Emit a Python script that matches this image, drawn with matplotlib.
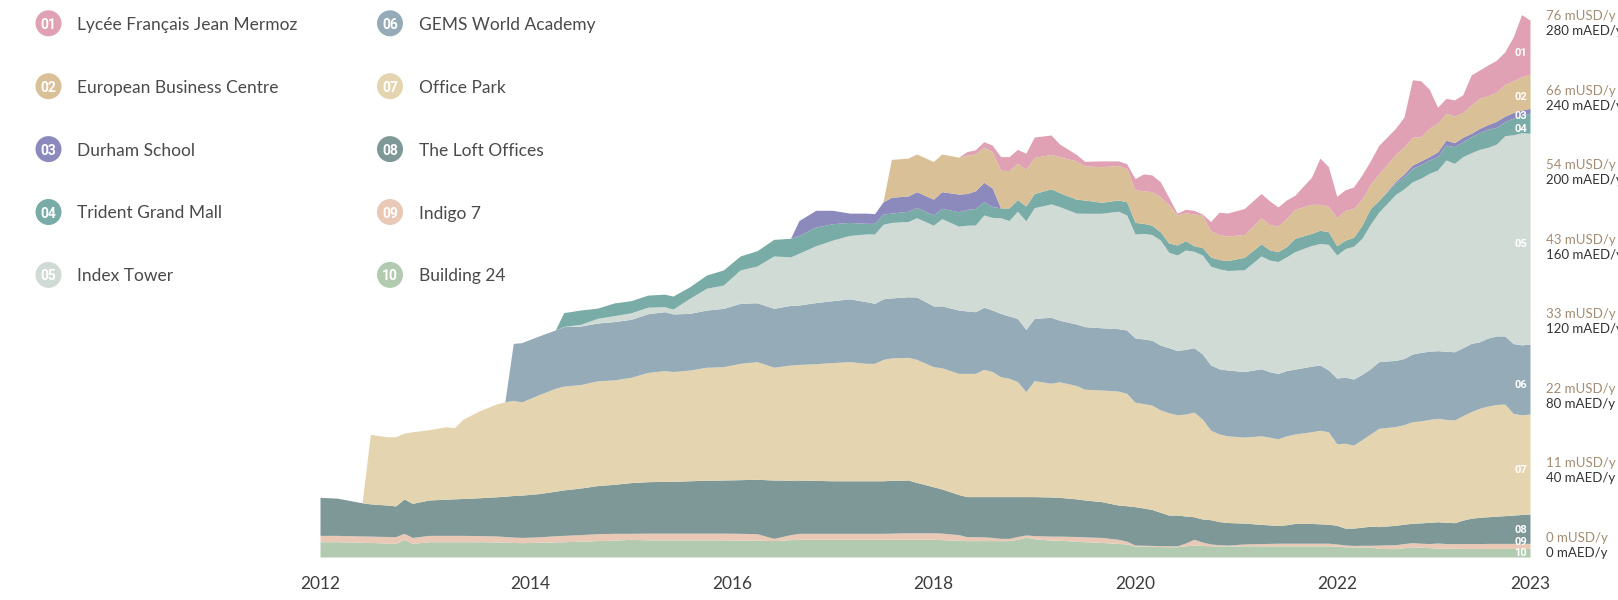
import matplotlib.pyplot as plt
import numpy as np
from matplotlib.patches import Circle

plt.rcParams['font.family'] = ['Lato', 'DejaVu Sans']

months = [
    '2011-12', '2012-02', '2012-05', '2012-06', '2012-08', '2012-09', '2012-10', '2012-11', '2013-01', '2013-03',
    '2013-04', '2013-05', '2013-07', '2013-09', '2013-10', '2013-11', '2013-12', '2014-02', '2014-04', '2014-05',
    '2014-07', '2014-09', '2014-11', '2015-01', '2015-03', '2015-05', '2015-06', '2015-08', '2015-10', '2015-12',
    '2016-02', '2016-04', '2016-06', '2016-08', '2016-09', '2016-11', '2017-01', '2017-03', '2017-05', '2017-06',
    '2017-07', '2017-08', '2017-10', '2017-11', '2018-01', '2018-02', '2018-04', '2018-05', '2018-06', '2018-07',
    '2018-08', '2018-09', '2018-10', '2018-11', '2018-12', '2019-01', '2019-03', '2019-04', '2019-06', '2019-07',
    '2019-09', '2019-11', '2019-12', '2020-01', '2020-02', '2020-03', '2020-04', '2020-05', '2020-06', '2020-07',
    '2020-08', '2020-09', '2020-10', '2020-11', '2020-12', '2021-02', '2021-04', '2021-05', '2021-06', '2021-07',
    '2021-08', '2021-10', '2021-11', '2021-12', '2022-01', '2022-02', '2022-03', '2022-04', '2022-05', '2022-06',
    '2022-08', '2022-09', '2022-10', '2022-11', '2022-12', '2023-01', '2023-02', '2023-03', '2023-04', '2023-05',
    '2023-06', '2023-07', '2023-08', '2023-09', '2023-10', '2023-11', '2023-12',
]

# upper edge of each band of the stack, mAED/y (None = building not in the stack at that date)
top10 = [
    8.2, 8.2, 7.9, 7.8, 7.5, 7.3, 9.5, 7.3, 8.2, 8.2,
    8.2, 8.2, 8.2, 8.1, 8.0, 7.8, 7.7, 7.9, 8.1, 8.2,
    8.5, 8.8, 9.0, 9.5, 9.2, 9.2, 9.2, 9.2, 9.2, 9.2,
    9.0, 9.0, 8.8, 9.3, 9.5, 9.5, 9.5, 9.5, 9.5, 9.5,
    9.5, 9.5, 9.5, 9.5, 9.5, 9.3, 9.0, 8.8, 8.8, 8.8,
    8.8, 8.8, 8.8, 9.5, 10.6, 9.8, 9.0, 9.0, 8.5, 8.2,
    7.8, 7.3, 7.0, 5.9, 5.8, 5.7, 5.6, 5.5, 5.5, 6.0,
    6.4, 6.2, 6.0, 6.0, 5.9, 6.0, 6.0, 6.0, 6.0, 6.0,
    6.0, 6.0, 6.0, 6.0, 5.8, 5.5, 5.4, 5.4, 5.4, 4.6,
    4.5, 5.0, 5.5, 5.2, 5.0, 4.8, 4.7, 4.7, 4.6, 4.6,
    4.6, 4.6, 4.6, 4.6, 4.6, 4.6, 4.6,
]
top09 = [
    11.6, 11.6, 11.3, 11.2, 11.0, 10.9, 12.7, 10.5, 11.6, 11.6,
    11.6, 11.6, 11.5, 11.3, 11.0, 10.7, 10.5, 10.8, 11.4, 11.6,
    12.0, 12.5, 12.7, 12.7, 12.8, 12.8, 12.8, 12.8, 12.8, 12.8,
    12.7, 12.5, 10.0, 12.0, 12.7, 12.7, 12.7, 12.7, 12.7, 12.7,
    12.7, 12.8, 13.0, 13.0, 13.0, 12.8, 12.0, 10.9, 10.9, 10.8,
    10.5, 10.0, 10.0, 11.0, 11.8, 11.5, 11.2, 11.2, 11.0, 10.8,
    10.5, 9.5, 8.5, 6.4, 6.3, 6.2, 6.1, 6.0, 6.0, 7.5,
    9.5, 8.0, 7.0, 6.6, 6.4, 7.0, 7.2, 7.3, 7.4, 7.4,
    7.4, 7.4, 7.4, 7.4, 7.0, 6.5, 6.2, 6.3, 6.3, 6.4,
    6.6, 7.2, 7.7, 7.4, 7.2, 7.5, 7.2, 7.2, 7.2, 7.2,
    7.2, 7.3, 7.3, 7.3, 7.3, 7.3, 7.3,
]
top08 = [
    32.0, 31.6, 29.1, 28.5, 27.9, 27.4, 31.1, 28.8, 30.6, 31.0,
    31.2, 31.4, 31.8, 32.3, 32.6, 33.0, 33.2, 34.0, 35.3, 36.0,
    37.0, 38.3, 39.0, 39.9, 40.4, 40.6, 40.6, 40.9, 41.2, 41.3,
    41.5, 41.7, 41.3, 41.2, 41.3, 41.1, 40.9, 40.9, 40.9, 40.9,
    40.9, 41.1, 41.3, 40.0, 37.7, 36.5, 33.5, 32.4, 32.4, 32.4,
    32.4, 32.4, 32.4, 32.4, 32.4, 32.4, 32.2, 32.0, 31.2, 30.6,
    29.7, 27.9, 27.5, 27.0, 26.3, 25.5, 24.0, 22.5, 22.5, 22.0,
    21.6, 20.4, 20.0, 19.0, 18.5, 18.2, 17.5, 17.2, 16.9, 17.3,
    18.0, 18.0, 17.8, 17.6, 17.0, 15.5, 15.5, 16.0, 16.5, 16.3,
    17.0, 17.6, 18.1, 18.3, 18.6, 18.9, 18.6, 18.4, 19.8, 20.8,
    21.3, 21.6, 21.9, 22.2, 22.5, 22.8, 23.1,
]
top07 = [None] * 3 + [
    65.8, 64.5, 64.5, 66.5, 67.2, 68.3, 69.9,
    69.4, 73.9, 78.5, 82.1, 83.3, 84.0, 83.2, 87.0, 90.5, 91.7,
    92.5, 94.5, 95.0, 96.4, 99.0, 100.0, 99.5, 100.3, 101.8, 102.1,
    103.9, 104.8, 101.8, 103.0, 103.3, 103.7, 104.3, 104.8, 103.9, 103.9,
    106.0, 106.8, 107.1, 106.0, 102.1, 101.5, 98.5, 98.5, 98.5, 100.7,
    99.5, 96.7, 95.9, 94.1, 88.7, 94.6, 93.2, 94.0, 92.0, 90.0,
    89.6, 89.0, 87.8, 83.0, 82.3, 81.5, 78.9, 77.4, 76.3, 76.7,
    77.7, 74.0, 68.0, 66.0, 65.0, 64.3, 65.0, 64.3, 63.4, 65.0,
    66.0, 67.2, 68.0, 67.2, 60.8, 61.0, 60.0, 63.0, 66.0, 69.0,
    70.0, 71.0, 72.6, 73.0, 73.8, 74.4, 73.8, 73.5, 75.8, 78.0,
    79.8, 81.0, 81.8, 82.1, 77.0, 76.3, 76.7,
]
top06 = [None] * 15 + [
    114.6, 115.0, 118.5, 121.8, 123.6,
    123.9, 125.5, 126.3, 127.5, 130.5, 131.6, 130.4, 130.7, 132.5, 133.4,
    136.1, 136.4, 133.4, 135.0, 135.2, 136.5, 137.5, 138.5, 137.0, 136.1,
    138.5, 139.0, 139.6, 139.5, 134.7, 134.7, 132.5, 132.0, 131.6, 134.0,
    132.5, 130.7, 129.3, 128.0, 122.1, 128.0, 128.6, 127.0, 125.0, 123.6,
    123.0, 122.5, 121.8, 117.5, 117.0, 116.3, 113.7, 112.3, 110.8, 111.4,
    112.3, 109.0, 103.0, 101.0, 100.3, 99.5, 101.0, 99.4, 98.5, 100.0,
    100.8, 102.4, 103.0, 100.4, 96.0, 96.5, 95.5, 98.0, 101.0, 104.8,
    105.5, 106.5, 108.9, 109.8, 110.4, 110.7, 110.4, 110.1, 112.3, 114.6,
    115.5, 117.5, 118.6, 118.6, 114.5, 113.8, 114.3,
]
top05 = [None] * 19 + [
    123.7,
    124.8, 128.0, 129.5, 131.0, 134.0, 134.3, 133.0, 138.8, 144.2, 145.9,
    154.0, 156.1, 161.5, 161.0, 163.0, 167.0, 170.0, 172.5, 173.3, 173.3,
    178.5, 179.5, 180.0, 182.0, 178.0, 181.5, 177.5, 178.0, 178.1, 183.5,
    182.2, 182.0, 180.5, 185.5, 180.3, 187.4, 189.4, 188.0, 184.5, 184.4,
    184.4, 185.5, 183.5, 173.3, 173.6, 173.0, 170.1, 163.5, 162.0, 164.7,
    164.0, 162.0, 156.0, 154.6, 153.7, 154.1, 161.5, 159.3, 158.5, 161.0,
    163.8, 167.1, 168.2, 167.7, 162.0, 165.5, 166.7, 171.0, 178.5, 185.0,
    194.5, 197.5, 201.3, 203.2, 205.8, 207.6, 213.0, 211.2, 214.8, 216.9,
    218.7, 219.8, 221.5, 226.0, 226.5, 227.6, 227.3,
]
top04 = [None] * 19 + [
    131.1,
    132.5, 133.5, 136.3, 137.5, 140.5, 141.0, 140.0, 145.0, 151.3, 154.0,
    161.5, 164.3, 170.4, 171.0, 172.5, 177.0, 178.8, 179.5, 179.0, 179.0,
    184.0, 184.5, 185.5, 187.5, 183.5, 187.1, 185.2, 186.5, 187.0, 190.6,
    188.0, 187.3, 187.3, 191.8, 188.3, 195.0, 197.5, 195.5, 192.0, 191.5,
    190.3, 191.5, 190.6, 179.5, 179.0, 178.0, 174.5, 168.5, 167.4, 169.7,
    167.0, 166.0, 161.0, 159.6, 159.0, 160.8, 168.0, 164.8, 163.8, 166.5,
    171.0, 173.6, 175.3, 174.5, 167.0, 170.0, 171.5, 178.0, 187.0, 191.3,
    200.8, 204.0, 208.5, 210.5, 213.0, 214.8, 221.0, 220.1, 222.8, 225.5,
    227.6, 229.5, 230.5, 233.5, 235.5, 237.1, 238.0,
]
top03 = [None] * 34 + [
    180.5, 186.0, 186.0, 184.5, 184.5, 184.2, 190.5, 193.0, 193.7, 196.0,
    192.0, 196.0, 194.7, 195.0, 196.5, 201.0, 198.0,
] + [None] * 39 + [
    201.6, 205.5, 210.3, 212.5, 214.8, 217.4, 223.7, 222.3, 225.2, 227.3,
    230.0, 232.0, 233.8, 236.5, 238.5, 239.8, 240.7,
]
top02 = [None] * 41 + [
    213.3, 214.0, 216.2, 212.2, 216.2, 214.5, 215.6, 216.3, 220.0,
    217.5, 207.5, 207.3, 211.2, 208.0, 214.4, 216.0, 214.8, 212.5, 209.8,
    209.4, 210.0, 208.5, 197.0, 196.5, 196.0, 193.3, 189.0, 183.5, 184.7,
    184.0, 183.5, 175.0, 173.0, 172.2, 173.0, 182.0, 178.4, 177.5, 181.5,
    186.5, 189.2, 189.2, 188.2, 182.0, 186.0, 187.0, 192.0, 200.0, 205.5,
    216.0, 220.0, 225.2, 225.5, 230.0, 232.7, 238.0, 236.6, 238.4, 242.5,
    246.1, 247.5, 249.5, 253.5, 255.5, 257.7, 259.1,
]
top01 = [None] * 47 + [
    217.5, 218.5, 222.8,
    221.0, 214.8, 214.8, 218.7, 216.6, 225.3, 226.4, 221.6, 216.0, 212.3,
    212.5, 212.5, 211.0, 203.0, 205.5, 205.0, 201.3, 193.0, 184.5, 186.5,
    186.0, 184.0, 180.0, 185.0, 184.5, 187.0, 195.0, 191.1, 187.8, 191.5,
    194.0, 203.8, 214.0, 209.5, 193.5, 197.0, 198.5, 205.0, 212.5, 220.8,
    230.0, 236.0, 256.0, 255.5, 251.0, 241.3, 246.1, 245.2, 248.0, 258.6,
    261.3, 264.0, 266.5, 271.0, 279.0, 291.0, 288.0,
]

codes = ['01', '02', '03', '04', '05', '06', '07', '08', '09', '10']
names = ['Lycée Français Jean Mermoz', 'European Business Centre', 'Durham School',
         'Trident Grand Mall', 'Index Tower', 'GEMS World Academy', 'Office Park',
         'The Loft Offices', 'Indigo 7', 'Building 24']
colors = ['#dfa1b3', '#d9c097', '#8c8abd', '#7aaca7', '#d1dbd6',
          '#95acb8', '#e4d5b0', '#7e9897', '#e9c8b5', '#b2cbb0']

aed_ticks = [0, 40, 80, 120, 160, 200, 240, 280]
usd_labels = ['0', '11', '22', '33', '43', '54', '66', '76']
year_ticks = [2014, 2016, 2018, 2020, 2022]

t = np.array([int(m[:4]) + (int(m[5:]) - 1) / 12 for m in months])

fig = plt.figure(figsize=(16.18, 6), dpi=100)
ax = fig.add_axes([320 / 1618, 43 / 600, 1210 / 1618, 552 / 600])

tops = [top01, top02, top03, top04, top05, top06, top07, top08, top09, top10]

# stack from the bottom (10) up to 01
lower = np.zeros(len(t))
band_mid = {}
for code, col, top in reversed(list(zip(codes, colors, tops))):
    top = np.array([np.nan if v is None else v for v in top], dtype=float)
    top = np.where(np.isnan(top), lower, top)
    ax.fill_between(t, lower, top, color=col, lw=0)
    band_mid[code] = (lower[-1] + top[-1]) / 2
    lower = top

num_font = dict(family=['Roboto', 'DejaVu Sans'], fontweight='bold', color='white')

# number tags at the right end of each band
prev = -99
for code in reversed(codes):
    y = max(band_mid[code] - 3, 2, prev + 6.3)
    prev = y
    ax.annotate(code, xy=(t[-1], y), xytext=(-3, 0), textcoords='offset pixels',
                ha='right', va='center', fontsize=8, **num_font)

ax.set_xlim(t[0], t[-1])
ax.set_ylim(0, 552 / 1.864)
for s in ax.spines.values():
    s.set_visible(False)
ax.set_yticks([])
ax.set_xticks([t[0]] + year_ticks + [t[-1]])
ax.set_xticklabels(['2012'] + [str(y) for y in year_ticks] + ['2023'])
ax.tick_params(axis='x', length=0, pad=14, labelsize=12.5, labelcolor='#3d3d3d')

# two-currency labels on the right
for v, u in zip(aed_ticks, usd_labels):
    ax.annotate(f'{v} mAED/y', xy=(1, v), xycoords=ax.get_yaxis_transform(),
                xytext=(16, 0), textcoords='offset pixels', va='baseline', ha='left',
                fontsize=9.5, color='#333333', annotation_clip=False)
    ax.annotate(f'{u} mUSD/y', xy=(1, v), xycoords=ax.get_yaxis_transform(),
                xytext=(16, 15), textcoords='offset pixels', va='baseline', ha='left',
                fontsize=9.5, color='#a38c72', annotation_clip=False)

# legend, drawn in pixel coordinates
lax = fig.add_axes([0, 0, 1, 1])
lax.set_xlim(0, 1618)
lax.set_ylim(600, 0)
lax.axis('off')
for i, (code, name, col) in enumerate(zip(codes, names, colors)):
    cx = [48.5, 390][i // 5]
    cy = 23.3 + (i % 5) * 62.9
    lax.add_patch(Circle((cx, cy), 13, color=col, lw=0))
    lax.text(cx, cy, code, ha='center', va='center_baseline', fontsize=10, **num_font)
    lax.text(cx + 29, cy, name, ha='left', va='center_baseline', fontsize=12.5, color='#4a4a4a')

fig.savefig('out.png', dpi=100, facecolor='white')
